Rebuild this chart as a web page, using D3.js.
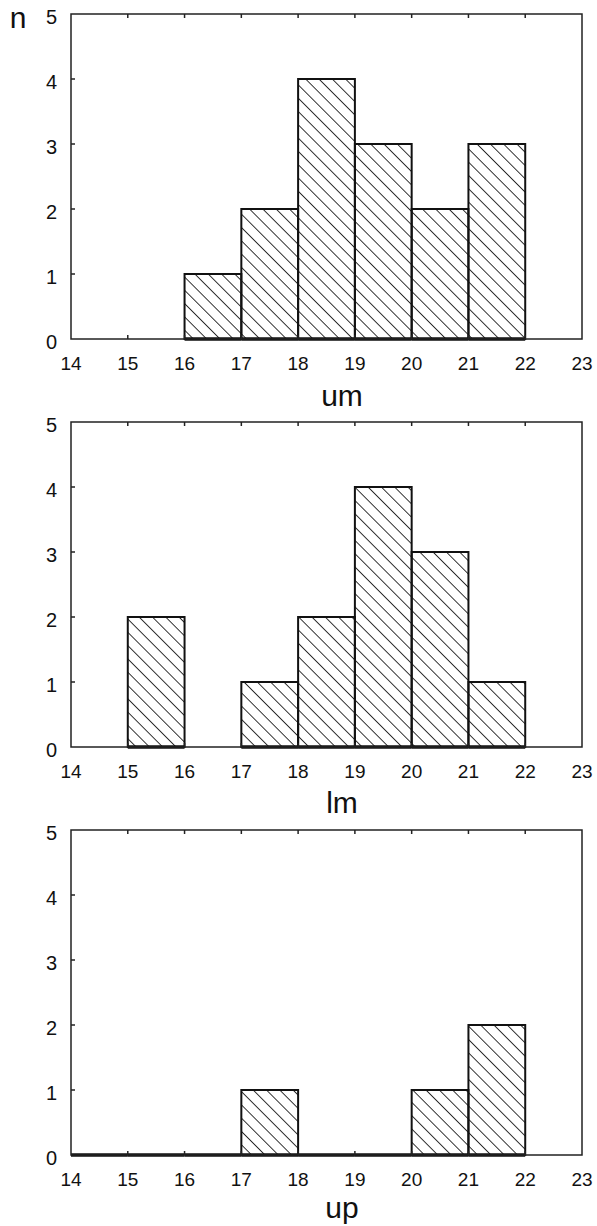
<!DOCTYPE html>
<html>
<head>
<meta charset="utf-8">
<script src="https://cdn.jsdelivr.net/npm/d3@7"></script>
<style>
  body { margin: 0; background: #fff; }
  svg { display: block; }
  text { font-family: "Liberation Sans", Arial, sans-serif; fill: #111; }
</style>
</head>
<body>
<div id="chart"></div>
<script>
// bins start at 14, 15, ... 21 (each one unit wide)
const binStarts = [14, 15, 16, 17, 18, 19, 20, 21];
const umCounts = [0, 0, 1, 2, 4, 3, 2, 3];
const lmCounts = [0, 2, 0, 1, 2, 4, 3, 1];
const upCounts = [0, 0, 0, 1, 0, 0, 1, 2];
const panelTitles = ['um', 'lm', 'up'];
const xTicks = [14, 15, 16, 17, 18, 19, 20, 21, 22, 23];
const yTicks = [0, 1, 2, 3, 4, 5];

const W = 597, H = 1226;
const left = 71, right = 582, panelH = 325;
const tops = [14, 422, 830];
const titleOffset = [67, 66, 63];
const showEmpty = [false, false, true];

const svg = d3.select('#chart').append('svg')
    .attr('width', W)
    .attr('height', H);

// diagonal hatch "\"
const defs = svg.append('defs');
defs.append('pattern')
    .attr('id', 'hatch')
    .attr('patternUnits', 'userSpaceOnUse')
    .attr('width', 9.4)
    .attr('height', 9.4)
    .attr('patternTransform', 'rotate(-45)')
  .append('line')
    .attr('x1', 0).attr('y1', 0)
    .attr('x2', 0).attr('y2', 9.4)
    .attr('stroke', '#111')
    .attr('stroke-width', 1.7);

const x = d3.scaleLinear().domain([14, 23]).range([left, right]);

function drawPanel(counts, i) {
    const top = tops[i];
    const y = d3.scaleLinear().domain([0, 5]).range([top + panelH, top]);
    const g = svg.append('g');

    // bars
    const data = binStarts.map((b, k) => ({ x0: b, n: counts[k] }))
        .filter(d => d.n > 0 || showEmpty[i]);
    g.selectAll('rect.bar').data(data).enter().append('rect')
        .attr('class', 'bar')
        .attr('x', d => x(d.x0))
        .attr('y', d => y(d.n))
        .attr('width', d => x(d.x0 + 1) - x(d.x0))
        .attr('height', d => y(0) - y(d.n))
        .attr('fill', 'url(#hatch)')
        .attr('stroke', '#111')
        .attr('stroke-width', 2);
    // thick base under each bar
    g.selectAll('line.base').data(data).enter().append('line')
        .attr('x1', d => x(d.x0))
        .attr('x2', d => x(d.x0 + 1))
        .attr('y1', y(0))
        .attr('y2', y(0))
        .attr('stroke', '#111')
        .attr('stroke-width', 3.5);

    // frame
    g.append('rect')
        .attr('x', left).attr('y', top)
        .attr('width', right - left).attr('height', panelH)
        .attr('fill', 'none')
        .attr('stroke', '#222')
        .attr('stroke-width', 1.5);

    // inward ticks: top, bottom, left
    const inner = xTicks.slice(1, -1);
    g.selectAll('line.tt').data(inner).enter().append('line')
        .attr('x1', d => x(d)).attr('x2', d => x(d))
        .attr('y1', top).attr('y2', top + 4)
        .attr('stroke', '#222').attr('stroke-width', 1.5);
    g.selectAll('line.tb').data(inner).enter().append('line')
        .attr('x1', d => x(d)).attr('x2', d => x(d))
        .attr('y1', y(0)).attr('y2', y(0) - 4)
        .attr('stroke', '#222').attr('stroke-width', 1.5);
    g.selectAll('line.tl').data(yTicks.slice(1, -1)).enter().append('line')
        .attr('x1', left).attr('x2', left + 4)
        .attr('y1', d => y(d)).attr('y2', d => y(d))
        .attr('stroke', '#222').attr('stroke-width', 1.5);

    // tick labels
    g.selectAll('text.xl').data(xTicks).enter().append('text')
        .attr('x', d => x(d))
        .attr('y', y(0) + 31)
        .attr('text-anchor', 'middle')
        .attr('font-size', 19)
        .text(d => d);
    g.selectAll('text.yl').data(yTicks).enter().append('text')
        .attr('x', 57)
        .attr('y', d => y(d) + 10)
        .attr('text-anchor', 'end')
        .attr('font-size', 20)
        .text(d => d);

    // axis title
    g.append('text')
        .attr('x', 342)
        .attr('y', y(0) + titleOffset[i])
        .attr('text-anchor', 'middle')
        .attr('font-size', 30)
        .text(panelTitles[i]);
}

[umCounts, lmCounts, upCounts].forEach(drawPanel);

// y label
svg.append('text')
    .attr('x', 18)
    .attr('y', 28)
    .attr('text-anchor', 'middle')
    .attr('font-size', 30)
    .text('n');
</script>
</body>
</html>
